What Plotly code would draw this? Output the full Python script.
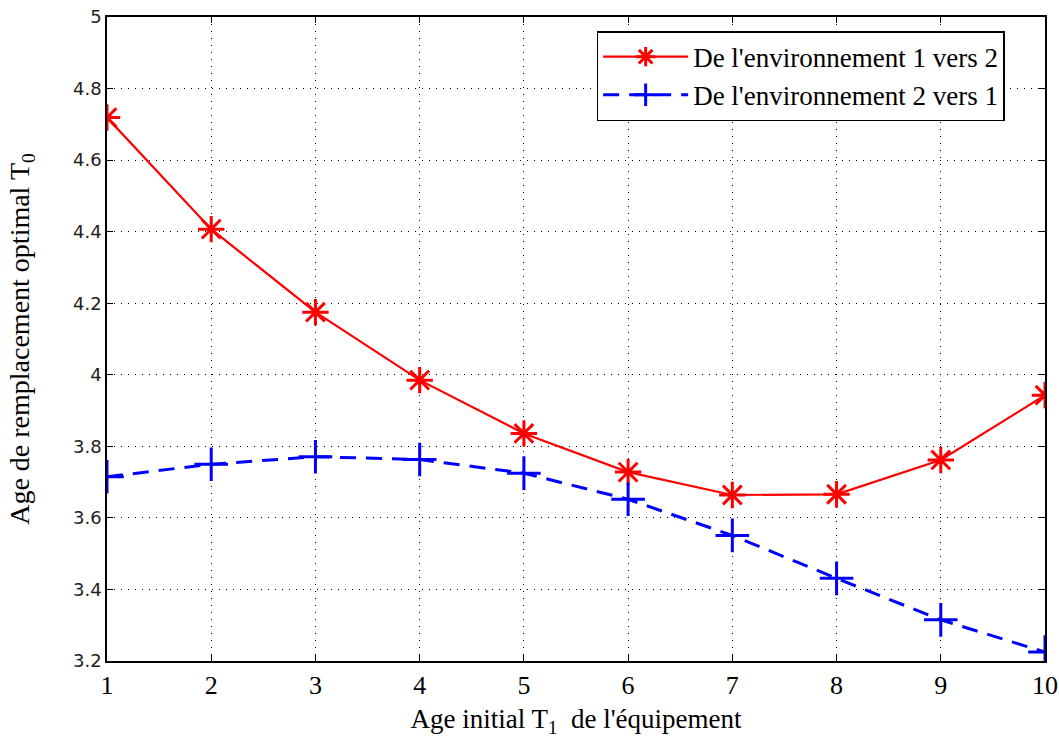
import plotly.graph_objects as go

x_vals = [1, 2, 3, 4, 5, 6, 7, 8, 9, 10]
red_vals = [4.719, 4.407, 4.175, 3.985, 3.836, 3.728, 3.664, 3.666, 3.762, 3.943]
blue_vals = [3.715, 3.750, 3.771, 3.763, 3.725, 3.652, 3.551, 3.431, 3.315, 3.225]
red_name = "De l'environnement 1 vers 2"
blue_name = "De l'environnement 2 vers 1"
x_ticks = [1, 2, 3, 4, 5, 6, 7, 8, 9, 10]
y_ticks = [3.2, 3.4, 3.6, 3.8, 4.0, 4.2, 4.4, 4.6, 4.8, 5.0]
y_ticktext = ["3.2", "3.4", "3.6", "3.8", "4", "4.2", "4.4", "4.6", "4.8", "5"]

fig = go.Figure()
fig.add_trace(go.Scatter(
    x=x_vals, y=red_vals, name=red_name, mode="lines+markers",
    line=dict(color="#ff0000", width=2.2),
    marker=dict(symbol="asterisk-open", size=22, line=dict(color="#ff0000", width=3)),
))
fig.add_trace(go.Scatter(
    x=x_vals, y=blue_vals, name=blue_name, mode="lines+markers",
    line=dict(color="#0000ff", width=3, dash="16px,10px"),
    marker=dict(symbol="cross-thin-open", size=24, line=dict(color="#0000ff", width=3)),
))

axis_common = dict(
    showline=True, linecolor="black", linewidth=1.5, mirror="allticks",
    ticks="inside", ticklen=6, tickcolor="black",
    showgrid=True, gridcolor="black", gridwidth=1, griddash="1px,6px",
    zeroline=False, automargin=False, ticklabeloverflow="allow",
)

fig.update_xaxes(
    range=[1, 10], tickvals=x_ticks,
    tickfont=dict(family="Liberation Serif", size=26, color="black"),
    title=dict(text="Age initial T<sub>1</sub>  de l'équipement",
               font=dict(family="Liberation Serif", size=27, color="black"), standoff=10),
    **axis_common,
)
fig.update_yaxes(
    range=[3.2, 5.0], tickvals=y_ticks, ticktext=y_ticktext,
    tickfont=dict(family="DejaVu Sans", size=18, color="#222"),
    title=dict(text="Age de remplacement optimal T<sub>0</sub>",
               font=dict(family="Liberation Serif", size=28, color="black"), standoff=35),
    **axis_common,
)

fig.update_layout(
    width=1059, height=746,
    margin=dict(l=107, r=14, t=17, b=85),
    paper_bgcolor="white", plot_bgcolor="white",
    font=dict(family="Liberation Serif", color="black"),
    legend=dict(
        x=0.522, y=0.978, xanchor="left", yanchor="top",
        bgcolor="white", bordercolor="black", borderwidth=1.5,
        font=dict(family="Liberation Serif", size=27, color="black"),
        itemwidth=85, tracegroupgap=0,
    ),
    showlegend=True,
)

fig.write_html(
    "out.html",
    config={"displayModeBar": False},
    post_script="document.body.style.margin='0px';document.body.style.overflow='hidden';",
)
